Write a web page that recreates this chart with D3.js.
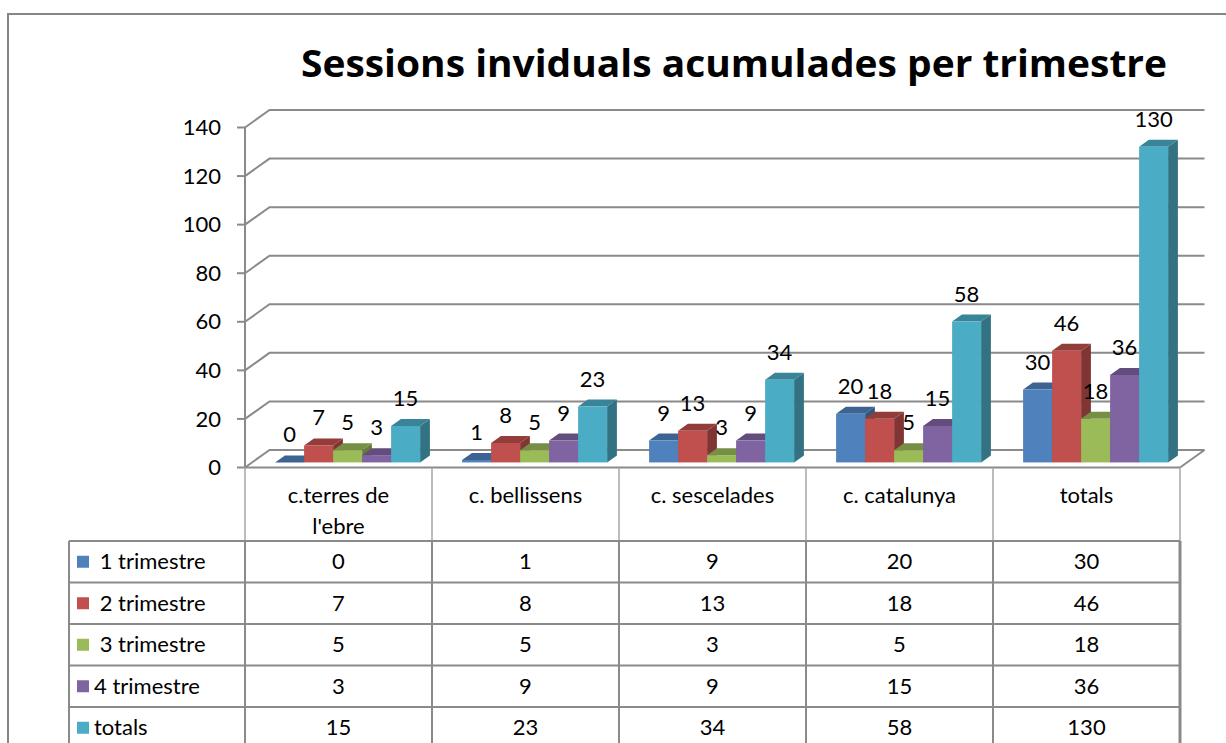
<!DOCTYPE html>
<html>
<head>
<meta charset="utf-8">
<script src="https://cdn.jsdelivr.net/npm/d3@7"></script>
<style>
  body { margin: 0; background: #fff; }
  text { font-family: Lato, "Open Sans", sans-serif; fill: #000; }
</style>
</head>
<body>
<div id="chart"></div>
<script>
// chart data
const categories = ["c.terres de l'ebre", "c. bellissens", "c. sescelades", "c. catalunya", "totals"];
const seriesNames = [" 1 trimestre", " 2 trimestre", " 3 trimestre", "4 trimestre", "totals"];
const trimestre1 = [0, 1, 9, 20, 30];
const trimestre2 = [7, 8, 13, 18, 46];
const trimestre3 = [5, 5, 3, 5, 18];
const trimestre4 = [3, 9, 9, 15, 36];
const totals = [15, 23, 34, 58, 130];
const yTicks = [0, 20, 40, 60, 80, 100, 120, 140];
const colors = ['#4F81BD', '#C0504D', '#9BBB59', '#8064A2', '#4BACC6'];

const seriesValues = [trimestre1, trimestre2, trimestre3, trimestre4, totals];

const width = 1226, height = 743;
const gridColor = '#8a8a8a';
const fontSize = '22px';

// depth of the 3d box (full) and of the bars
const DX = 24.5, DY = -17.5;
const zFront = 0.29, zDepth = 0.4;

const svg = d3.select('#chart').append('svg')
    .attr('width', width)
    .attr('height', height);

// chart frame
svg.append('path')
    .attr('d', `M8,${height + 5} L8,14 L${width + 5},14`)
    .attr('fill', 'none')
    .attr('stroke', '#868686')
    .attr('stroke-width', 2);

// title
svg.append('text')
    .attr('x', 734)
    .attr('y', 77)
    .attr('text-anchor', 'middle')
    .attr('textLength', 866)
    .attr('lengthAdjust', 'spacingAndGlyphs')
    .style('font-family', '"Open Sans", Lato, sans-serif')
    .style('font-size', '37px')
    .style('font-weight', 'bold')
    .text('Sessions inviduals acumulades per trimestre');

// scales (front plane of the box)
const x0 = d3.scaleBand().domain(categories).range([245, 1180]);
const x1 = d3.scaleBand().domain(seriesNames).range([23, 168]);
const y = d3.scaleLinear().domain([0, 140]).range([467.5, 127.5]);

const right = x0.range()[1];

// back wall gridlines + left wall diagonals
const grid = svg.append('g')
    .attr('fill', 'none')
    .attr('stroke', gridColor)
    .attr('stroke-width', 2);

grid.selectAll('.gl')
    .data(yTicks)
    .enter().append('path')
    .attr('class', 'gl')
    .attr('d', d => `M245,${y(d)} L${245 + DX},${y(d) + DY} L${right + DX},${y(d) + DY}`);

// floor right edge
grid.append('path')
    .attr('d', `M${right},${y(0)} L${right + DX},${y(0) + DY}`);

// axis line and ticks
grid.append('path')
    .attr('d', `M245,${y(140)} L245,${y(0)}`);
grid.selectAll('.tk')
    .data(yTicks)
    .enter().append('path')
    .attr('class', 'tk')
    .attr('d', d => `M237,${y(d)} L245,${y(d)}`);

svg.selectAll('.ylab')
    .data(yTicks)
    .enter().append('text')
    .attr('class', 'ylab')
    .attr('x', 221)
    .attr('y', d => y(d))
    .attr('dy', '0.35em')
    .attr('text-anchor', 'end')
    .style('font-size', fontSize)
    .text(d => d);

// bars
const fdx = zFront * DX, fdy = zFront * DY;
const bdx = zDepth * DX, bdy = zDepth * DY;
const bw = x1.bandwidth();

const bars = [];
categories.forEach((c, ci) => {
    seriesNames.forEach((s, si) => {
        bars.push({ cat: c, series: s, si: si, value: seriesValues[si][ci] });
    });
});

const barG = svg.selectAll('.bar')
    .data(bars)
    .enter().append('g')
    .attr('class', 'bar');

barG.each(function(d) {
    const g = d3.select(this);
    const xl = x0(d.cat) + x1(d.series) + fdx;
    const xr = xl + bw;
    const yt = y(d.value) + fdy;
    const yb = y(0) + fdy;
    const base = d3.color(colors[d.si]);
    // side face
    g.append('path')
        .attr('d', `M${xr},${yt} L${xr + bdx},${yt + bdy} L${xr + bdx},${yb + bdy} L${xr},${yb} Z`)
        .attr('fill', base.darker(1.15));
    // top face
    g.append('path')
        .attr('d', `M${xl},${yt} L${xr},${yt} L${xr + bdx},${yt + bdy} L${xl + bdx},${yt + bdy} Z`)
        .attr('fill', base.darker(0.75));
    // front face
    g.append('rect')
        .attr('x', xl)
        .attr('y', yt)
        .attr('width', bw)
        .attr('height', yb - yt)
        .attr('fill', base);
});

// data labels
svg.selectAll('.dlab')
    .data(bars)
    .enter().append('text')
    .attr('class', 'dlab')
    .attr('x', d => x0(d.cat) + x1(d.series) + fdx + bw / 2)
    .attr('y', d => y(d.value) + fdy - 20)
    .attr('text-anchor', 'middle')
    .style('font-size', fontSize)
    .text(d => d.value);

// data table
const rowTop = 541, rowH = 41.5;
const legendLeft = 69;
const table = svg.append('g');

// header row (category names)
table.append('path')
    .attr('d', `M245,${y(0)} L${right},${y(0)}`)
    .attr('stroke', gridColor)
    .attr('stroke-width', 2);

table.selectAll('.hv')
    .data(categories.map(c => x0(c)).concat([right]))
    .enter().append('path')
    .attr('class', 'hv')
    .attr('d', d => `M${d},${y(0)} L${d},${rowTop}`)
    .attr('stroke', '#a6a6a6')
    .attr('stroke-width', 1.5);

function wrap(sel, maxW, lineH) {
    sel.each(function() {
        const t = d3.select(this);
        const words = t.text().split(' ');
        const xx = t.attr('x');
        t.text(null);
        let line = [];
        let tspan = t.append('tspan').attr('x', xx);
        words.forEach(w => {
            line.push(w);
            tspan.text(line.join(' '));
            if (tspan.node().getComputedTextLength() > maxW && line.length > 1) {
                line.pop();
                tspan.text(line.join(' '));
                line = [w];
                tspan = t.append('tspan').attr('x', xx).attr('dy', lineH).text(w);
            }
        });
    });
}

table.selectAll('.clab')
    .data(categories)
    .enter().append('text')
    .attr('class', 'clab')
    .attr('x', d => x0(d) + x0.bandwidth() / 2)
    .attr('y', 503)
    .attr('text-anchor', 'middle')
    .style('font-size', fontSize)
    .text(d => d)
    .call(wrap, 150, 31);

// body grid
const nRows = seriesNames.length;
const rowYs = d3.range(nRows + 1).map(i => rowTop + i * rowH);
table.selectAll('.rh')
    .data(rowYs)
    .enter().append('path')
    .attr('class', 'rh')
    .attr('d', d => `M${legendLeft},${d} L${right},${d}`)
    .attr('stroke', gridColor)
    .attr('stroke-width', 2);

const colXs = [legendLeft].concat(categories.map(c => x0(c))).concat([right]);
table.selectAll('.cv')
    .data(colXs)
    .enter().append('path')
    .attr('class', 'cv')
    .attr('d', d => `M${d},${rowTop} L${d},${rowYs[nRows]}`)
    .attr('stroke', gridColor)
    .attr('stroke-width', (d, i) => i === colXs.length - 1 ? 3 : 2);

// legend keys + series names
const rows = table.selectAll('.row')
    .data(seriesNames)
    .enter().append('g')
    .attr('class', 'row')
    .attr('transform', (d, i) => `translate(0,${rowTop + i * rowH + rowH / 2})`);

rows.append('rect')
    .attr('x', 77)
    .attr('y', -6)
    .attr('width', 12)
    .attr('height', 12)
    .attr('fill', (d, i) => colors[i]);

rows.append('text')
    .attr('x', 94)
    .attr('dy', '0.35em')
    .style('font-size', fontSize)
    .style('white-space', 'pre')
    .text(d => d);

rows.selectAll('.cell')
    .data((d, i) => seriesValues[i].map((v, ci) => ({ v: v, cat: categories[ci] })))
    .enter().append('text')
    .attr('class', 'cell')
    .attr('x', d => x0(d.cat) + x0.bandwidth() / 2)
    .attr('dy', '0.35em')
    .attr('text-anchor', 'middle')
    .style('font-size', fontSize)
    .text(d => d.v);
</script>
</body>
</html>
